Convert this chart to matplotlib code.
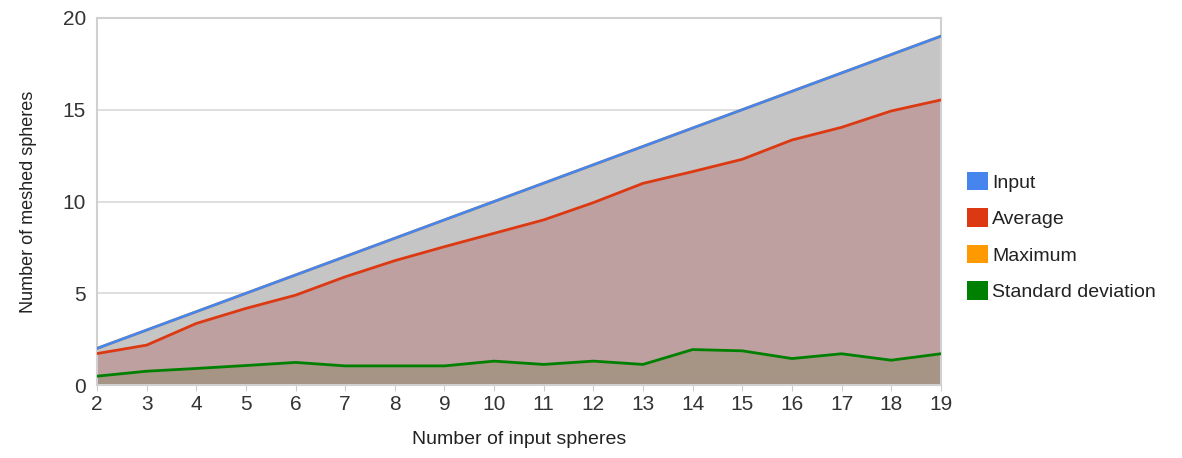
import numpy as np
import matplotlib.pyplot as plt
from matplotlib.patches import Patch

plt.rcParams['font.family'] = ['Liberation Sans', 'DejaVu Sans']

spheres = list(range(2, 20))
input_vals = [2, 3, 4, 5, 6, 7, 8, 9, 10, 11, 12, 13, 14, 15, 16, 17, 18, 19]
average = [1.72, 2.18, 3.36, 4.18, 4.9, 5.9, 6.78, 7.54, 8.27, 9.0, 9.94, 10.99,
           11.63, 12.3, 13.35, 14.04, 14.93, 15.53]
maximum = [2, 3, 4, 5, 6, 7, 8, 9, 10, 11, 12, 13, 14, 15, 16, 17, 18, 19]
std_dev = [0.49, 0.76, 0.91, 1.07, 1.24, 1.05, 1.05, 1.05, 1.31, 1.13, 1.31, 1.13,
           1.94, 1.87, 1.45, 1.71, 1.36, 1.71]

c_input = "#4684EE"
c_avg = "#DC3912"
c_max = "#FF9900"
c_std = "#008000"

fig = plt.figure(figsize=(11.82, 4.58), dpi=100)
ax = fig.add_axes([0.082, 0.159, 0.714, 0.802])

# overlapping translucent areas, as the blended colours seen in the chart
ax.fill_between(spheres, maximum, average, color="#c6c5c5", lw=0, zorder=1)
ax.fill_between(spheres, average, std_dev, color="#bea0a0", lw=0, zorder=1)
ax.fill_between(spheres, std_dev, 0, color="#a69484", lw=0, zorder=1)

# maximum sits under input, so draw it first
for vals, col in [(maximum, c_max), (input_vals, c_input), (average, c_avg), (std_dev, c_std)]:
    ax.plot(spheres, vals, color=col, lw=2, solid_joinstyle="round", zorder=3)

ax.set_xlim(2, 19)
ax.set_ylim(0, 20)
ax.set_yticks([0, 5, 10, 15, 20])
ax.set_xticks(spheres)
ax.grid(axis="y", color="#d9d9d9", lw=1.2, zorder=0)
ax.set_axisbelow(True)
for s in ax.spines.values():
    s.set_color("#d0d0d0")
    s.set_linewidth(1.5)
ax.tick_params(axis="y", length=0, labelsize=15, colors="#333333", pad=8)
ax.tick_params(axis="x", length=4, color="#cccccc", labelsize=15, colors="#333333", pad=3)

ax.set_xlabel("Number of input spheres", fontsize=14, color="#222222", labelpad=12)
ax.set_ylabel("Number of meshed spheres", fontsize=13, color="#222222", labelpad=18)

handles = [Patch(facecolor=c_input, edgecolor="none", label="Input"),
           Patch(facecolor=c_avg, edgecolor="none", label="Average"),
           Patch(facecolor=c_max, edgecolor="none", label="Maximum"),
           Patch(facecolor=c_std, edgecolor="none", label="Standard deviation")]
ax.legend(handles=handles, loc="center left", bbox_to_anchor=(1.01, 0.405), frameon=False,
          fontsize=14, handlelength=1.1, handleheight=1.1, handletextpad=0.2,
          labelspacing=0.85, labelcolor="#222222")

fig.savefig("out.png", dpi=100)
